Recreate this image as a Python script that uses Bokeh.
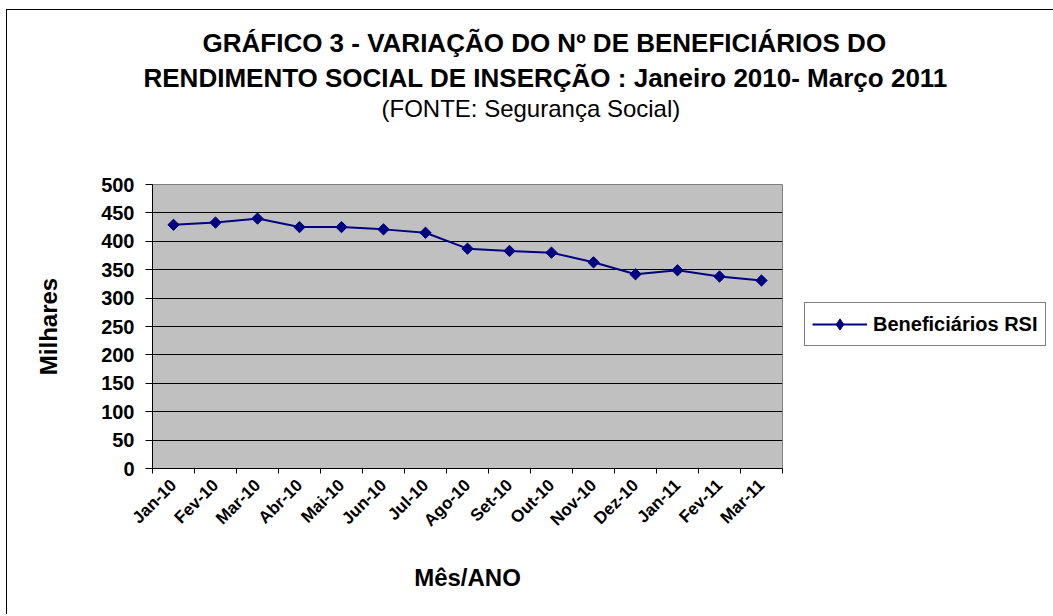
import numpy as np
from bokeh.plotting import figure
from bokeh.models import Title, Legend, LegendItem, FixedTicker, Range1d
from bokeh.embed import file_html
from bokeh.resources import INLINE

# ---------------- data ----------------
months = ["Jan-10", "Fev-10", "Mar-10", "Abr-10", "Mai-10", "Jun-10", "Jul-10",
          "Ago-10", "Set-10", "Out-10", "Nov-10", "Dez-10", "Jan-11", "Fev-11", "Mar-11"]
beneficiarios = [429, 433, 440, 425, 425, 421, 415, 387, 383, 380, 363, 342, 349, 338, 331]
y_ticks = [0, 50, 100, 150, 200, 250, 300, 350, 400, 450, 500]
series_name = "Beneficiários RSI"
title_line1 = "GRÁFICO 3 - VARIAÇÃO DO Nº DE BENEFICIÁRIOS DO"
title_line2 = "RENDIMENTO SOCIAL DE INSERÇÃO : Janeiro 2010- Março 2011"
subtitle = "(FONTE: Segurança Social)"
x_label = "Mês/ANO"
y_label = "Milhares"

FONT = "Liberation Sans"
NAVY = "#000080"

n = len(months)
x_pos = [i + 0.5 for i in range(n)]          # category centres
x_bounds = list(range(n + 1))                 # category boundaries (tick marks)

p = figure(frame_width=630, frame_height=284,
           min_border_left=145, min_border_top=174, min_border_bottom=146, min_border_right=270,
           x_range=Range1d(0, n), y_range=Range1d(y_ticks[0], y_ticks[-1]),
           output_backend="svg", toolbar_location=None,
           background_fill_color="#C0C0C0", border_fill_color="white")
p.title.visible = False
p.outline_line_color = "#808080"
p.outline_line_width = 1
p.styles = {"border-left": "1px solid black", "border-top": "1px solid black",
            "margin-left": "6px", "margin-top": "9px"}

# titles (nearest to the plot first)
p.add_layout(Title(text=" ", align="left", standoff=50,
                   text_font=FONT, text_font_size="10px"), "above")
p.add_layout(Title(text=subtitle, align="left", offset=229, standoff=0,
                   text_font=FONT, text_font_size="24px", text_font_style="normal",
                   text_color="black"), "above")
p.add_layout(Title(text=title_line2, align="left", offset=-9, standoff=0,
                   text_font=FONT, text_font_size="26px", text_font_style="bold",
                   text_color="black"), "above")
p.add_layout(Title(text=title_line1, align="left", offset=50, standoff=6,
                   text_font=FONT, text_font_size="26px", text_font_style="bold",
                   text_color="black"), "above")

# grid
p.xgrid.visible = False
p.ygrid.ticker = FixedTicker(ticks=y_ticks)
p.ygrid.grid_line_color = "black"
p.ygrid.grid_line_width = 1

# y axis
p.yaxis.ticker = FixedTicker(ticks=y_ticks)
p.yaxis.axis_line_color = "black"
p.yaxis.major_tick_line_color = "black"
p.yaxis.major_tick_out = 7
p.yaxis.major_tick_in = 0
p.yaxis.minor_tick_line_color = None
p.yaxis.major_label_text_font = FONT
p.yaxis.major_label_text_font_size = "20px"
p.yaxis.major_label_text_font_style = "bold"
p.yaxis.major_label_text_color = "black"
p.yaxis.major_label_standoff = 11
p.yaxis.axis_label = y_label
p.yaxis.axis_label_text_font = FONT
p.yaxis.axis_label_text_font_size = "24px"
p.yaxis.axis_label_text_font_style = "bold"
p.yaxis.axis_label_text_color = "black"
p.yaxis.axis_label_standoff = 36

# x axis
p.xaxis.ticker = FixedTicker(ticks=x_pos, minor_ticks=x_bounds)
p.xaxis.major_label_overrides = {x: m for x, m in zip(x_pos, months)}
p.xaxis.axis_line_color = "black"
p.xaxis.major_tick_line_color = None
p.xaxis.major_tick_out = 0
p.xaxis.major_tick_in = 0
p.xaxis.minor_tick_line_color = "black"
p.xaxis.minor_tick_out = 5
p.xaxis.minor_tick_in = 0
p.xaxis.major_label_orientation = np.pi / 4
p.xaxis.major_label_text_font = FONT
p.xaxis.major_label_text_font_size = "17px"
p.xaxis.major_label_text_font_style = "bold"
p.xaxis.major_label_text_color = "black"
p.xaxis.major_label_standoff = 9
p.xaxis.axis_label = x_label
p.xaxis.axis_label_text_font = FONT
p.xaxis.axis_label_text_font_size = "24px"
p.xaxis.axis_label_text_font_style = "bold"
p.xaxis.axis_label_text_color = "black"
p.xaxis.axis_label_standoff = 24

# series
ln = p.line(x_pos, beneficiarios, line_color=NAVY, line_width=2)
mk = p.scatter(x_pos, beneficiarios, marker="square", angle=np.pi / 4, size=8,
               fill_color=NAVY, line_color=NAVY)
# hidden diamond renderer used only for the legend swatch (legend ignores marker angle)
mk_legend = p.scatter(x_pos, beneficiarios, marker="diamond", size=12,
                      fill_color=NAVY, line_color=NAVY, visible=False)

legend = Legend(items=[LegendItem(label=series_name, renderers=[ln, mk_legend])],
                location=(22, 122), orientation="vertical",
                border_line_color="black", border_line_width=1,
                background_fill_color="white", background_fill_alpha=1,
                label_text_font=FONT, label_text_font_size="20px",
                label_text_font_style="bold", label_text_color="black",
                glyph_width=55, glyph_height=28, label_height=20,
                padding=7, spacing=0, label_standoff=6, margin=0)
p.add_layout(legend, "right")

open("out.html", "w").write(file_html(p, INLINE))
